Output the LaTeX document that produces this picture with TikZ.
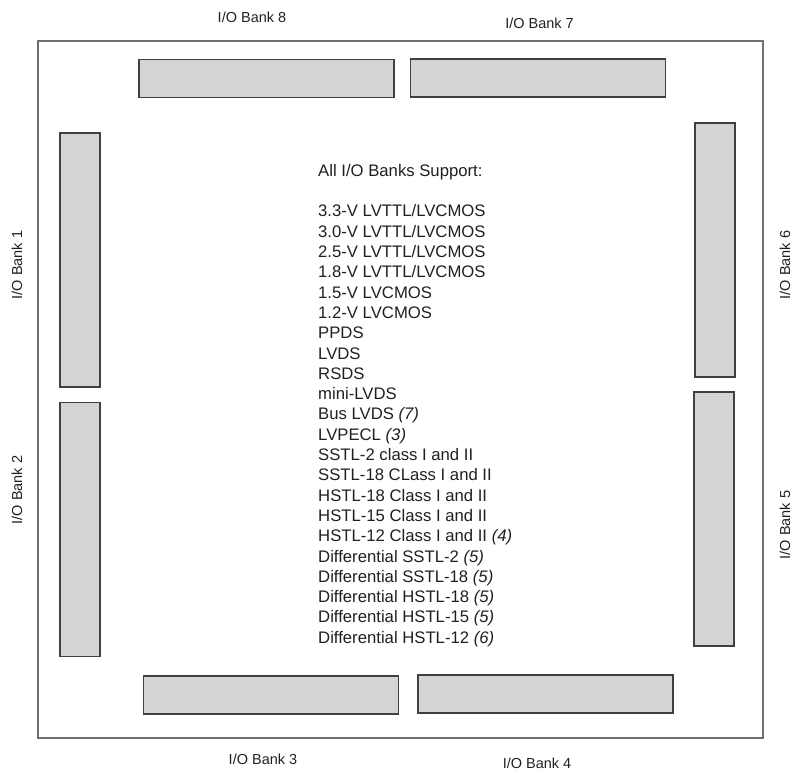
\documentclass[tikz,border=0pt]{standalone}
\usepackage{fontspec}
\setmainfont{Liberation Sans}
\definecolor{bankfill}{RGB}{211,212,214}
\definecolor{bankline}{RGB}{64,64,66}
\definecolor{frameline}{RGB}{110,111,113}
\definecolor{textgray}{RGB}{35,31,32}
\tikzset{
  bankbox/.style={draw=bankline, fill=bankfill, line width=1.1pt, inner sep=0pt},
  hbank/.style={bankbox, minimum width=255pt, minimum height=38pt},
  vbank/.style={bankbox, minimum width=40pt, minimum height=254pt},
  banklabel/.style={font=\fontsize{14.5}{17}\selectfont, text=textgray, inner sep=0pt},
}
\begin{document}
\begin{tikzpicture}[x=1pt,y=-1pt]
        \useasboundingbox (0,0) rectangle (792,772);
        \draw[frameline, line width=1.5pt] (38,41) rectangle (763,738);
        % top
        \node[hbank] (bank8) at (266.5,78.5) {};
        \node[hbank] (bank7) at (538,78) {};
        % left
        \node[vbank] (bank1) at (80,260) {};
        \node[vbank] (bank2) at (80,529.5) {};
        % right
        \node[vbank] (bank6) at (715,250) {};
        \node[vbank] (bank5) at (714,519) {};
        % bottom
        \node[hbank] (bank3) at (271,695) {};
        \node[hbank] (bank4) at (545.5,694) {};
        % bank names
        \node[banklabel] (name8) at (252,17) {I/O Bank 8};
        \node[banklabel] (name7) at (539.5,23) {I/O Bank 7};
        \node[banklabel, rotate=90] (name1) at (17,265) {I/O Bank 1};
        \node[banklabel, rotate=90] (name2) at (17,490) {I/O Bank 2};
        \node[banklabel, rotate=90] (name6) at (785,265) {I/O Bank 6};
        \node[banklabel, rotate=90] (name5) at (785,525) {I/O Bank 5};
        \node[banklabel] (name3) at (263,759) {I/O Bank 3};
        \node[banklabel] (name4) at (537,763.5) {I/O Bank 4};
        % standards
        \node[anchor=north west, align=left, inner sep=0pt, text=textgray, font=\fontsize{16.7}{20.3}\selectfont] (support) at (318,164) {All I/O Banks Support:\\[20.3pt]
          3.3-V LVTTL/LVCMOS\\
          3.0-V LVTTL/LVCMOS\\
          2.5-V LVTTL/LVCMOS\\
          1.8-V LVTTL/LVCMOS\\
          1.5-V LVCMOS\\
          1.2-V LVCMOS\\
          PPDS\\
          LVDS\\
          RSDS\\
          mini-LVDS\\
          Bus LVDS \textit{(7)}\\
          LVPECL \textit{(3)}\\
          SSTL-2 class I and II\\
          SSTL-18 CLass I and II\\
          HSTL-18 Class I and II\\
          HSTL-15 Class I and II\\
          HSTL-12 Class I and II \textit{(4)}\\
          Differential SSTL-2 \textit{(5)}\\
          Differential SSTL-18 \textit{(5)}\\
          Differential HSTL-18 \textit{(5)}\\
          Differential HSTL-15 \textit{(5)}\\
          Differential HSTL-12 \textit{(6)}};
\end{tikzpicture}
\end{document}
